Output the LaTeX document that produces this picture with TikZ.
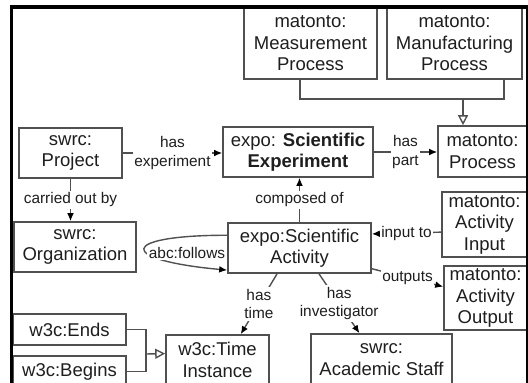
\documentclass[tikz,border=0pt]{standalone}
\usepackage{fontspec}
\setmainfont{Liberation Sans}
\usetikzlibrary{arrows.meta}
\definecolor{linegray}{HTML}{505050}
\definecolor{textgray}{HTML}{1E1E1E}
\tikzset{
  cls/.style={draw=linegray, line width=0.8pt, fill=white, inner sep=0pt, align=center,
    text=textgray, font=\fontsize{9.25}{10.75}\selectfont},
  rel/.style={draw=linegray, line width=0.7pt, -{Latex[length=4pt,width=3.4pt,black]}},
  isa/.style={draw=linegray, line width=0.7pt, -{Triangle[open,length=5pt,width=5pt,fill=white]}},
  lbl/.style={fill=white, inner sep=0.8pt, align=center, text=textgray,
    font=\fontsize{7.7}{9.4}\selectfont},
}
\begin{document}
\begin{tikzpicture}[x=0.5pt,y=-0.5pt]
    \useasboundingbox (0,0) rectangle (528,383);
    \clip (0,0) rectangle (528,383);
    %Processes
    \node[cls, minimum width=66.5pt, minimum height=35.5pt] (meas) at (310.5,43.5) {matonto:\\Measurement\\Process};
    \node[cls, minimum width=67.5pt, minimum height=35.5pt] (manu) at (454.5,43.5) {matonto:\\Manufacturing\\Process};
    \node[cls, minimum width=44.5pt, minimum height=25.5pt] (proc) at (482.5,151.5) {matonto:\\Process};
    %Experiment
    \node[cls, minimum width=75pt, minimum height=25pt] (exper) at (298,152) {expo: \textbf{Scientific}\\\textbf{Experiment}};
    \node[cls, minimum width=51.5pt, minimum height=25pt] (proj) at (70.5,153) {swrc:\\Project};
    \node[cls, minimum width=61pt, minimum height=25pt] (org) at (75,247) {swrc:\\Organization};
    %Activity
    \node[cls, minimum width=71.5pt, minimum height=25pt] (act) at (299.5,248) {expo:Scientific\\Activity};
    \node[cls, minimum width=42.5pt, minimum height=32.5pt] (input) at (484.5,224.5) {matonto:\\Activity\\Input};
    \node[cls, minimum width=41.5pt, minimum height=32pt] (output) at (485.5,298) {matonto:\\Activity\\Output};
    \node[cls, minimum width=51.5pt, minimum height=25pt] (time) at (217.5,360) {w3c:Time\\Instance};
    \node[cls, minimum width=70.5pt, minimum height=25.5pt] (staff) at (381.5,359.5) {swrc:\\Academic Staff};
    \node[cls, minimum width=56.5pt, minimum height=15.5pt] (ends) at (69.5,329.5) {w3c:Ends};
    \node[cls, minimum width=56.5pt, minimum height=15.5pt] (begins) at (69.5,371.5) {w3c:Begins};
    %Subclass lines
    \coordinate (genA) at (463,99);
    \coordinate (genB) at (146,354);
    \draw[draw=linegray, line width=0.7pt] (meas.south -| 300,0) |- (genA) -| (manu.south -| 504,0);
    \draw[isa] (genA) -- (proc.north -| genA);
    \draw[draw=linegray, line width=0.7pt] (ends.east) -| (genB);
    \draw[draw=linegray, line width=0.7pt] (begins.east) -| (genB);
    \draw[isa] (genB) -- (time.173);
    %Relations
    \draw[rel] (proj.east) -- node[lbl] {has\\experiment} (exper.west |- proj.east);
    \draw[rel] (exper.east) -- node[lbl] {has\\part} (proc.west |- exper.east);
    \draw[rel] (proj.south) -- node[lbl] {carried out by} (proj.south |- org.north);
    \draw[rel] (act.north) -- node[lbl] {composed of} (act.north |- exper.south);
    \draw[rel] (input.190) -- node[lbl] {input to} (act.11);
    \draw[rel] (act.-16) -- node[lbl] {outputs} (output.165);
    \draw[rel] (act.229) -- node[lbl] {has\\time} (time.48);
    \draw[rel] (act.-53) -- node[lbl] {has\\investigator} (staff.130);
    %Loop
    \draw[rel] (act.170) .. controls +(-110,0) and +(-110,-10) .. (act.197);
    \node[lbl] (follows) at (187,253) {abc:follows};
    %Frame
    \draw[line width=1.75pt] (11.5,420) -- (11.5,7) -- (527.5,7) -- (527.5,420);
\end{tikzpicture}
\end{document}
